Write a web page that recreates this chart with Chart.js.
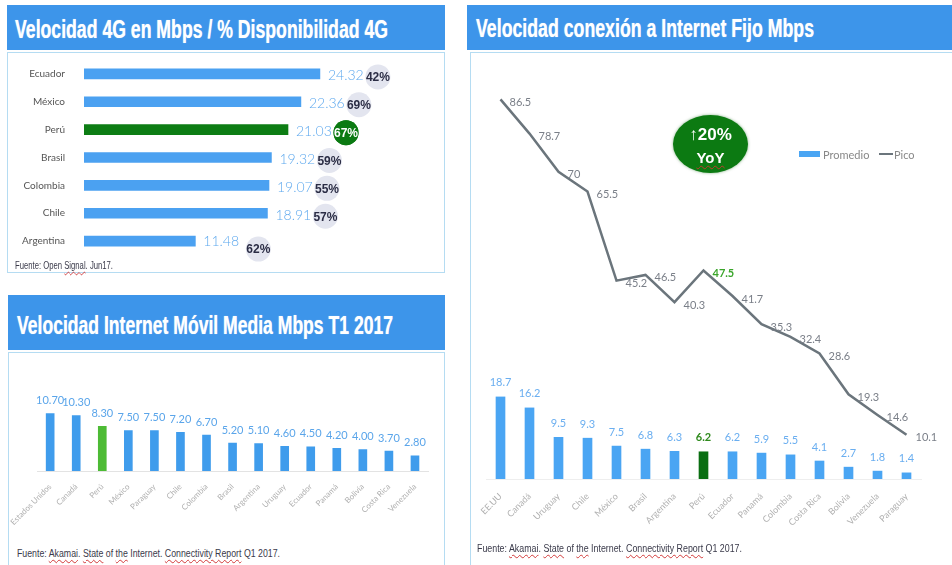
<!DOCTYPE html>
<html>
<head>
<meta charset="utf-8">
<script src="https://cdn.jsdelivr.net/npm/chart.js@4/dist/chart.umd.min.js"></script>
<style>
  html,body{margin:0;padding:0;background:#fff;}
  body{width:952px;height:565px;position:relative;overflow:hidden;font-family:"Liberation Sans",Arial,sans-serif;}
  .bar{position:absolute;background:#3d95ea;}
  .ttl{position:absolute;color:#fff;font-family:"Liberation Sans Narrow","Liberation Sans",Arial,sans-serif;font-weight:bold;white-space:nowrap;transform-origin:0 50%;text-shadow:0 0 1px rgba(255,255,255,0.7);line-height:1;}
  .box{position:absolute;border:1px solid #b5dcf2;box-sizing:border-box;}
  canvas{position:absolute;}
  .fn{position:absolute;white-space:nowrap;font-family:"Liberation Sans Narrow","Liberation Sans",Arial,sans-serif;color:#3a3a4a;transform-origin:0 50%;line-height:1;}
  .sq{text-decoration:underline wavy #d23a3a;text-decoration-thickness:1px;text-underline-offset:2px;}
  #yoy{position:absolute;left:673px;top:115px;width:75px;height:58px;border-radius:50%;background:#0c7a12;color:#fff;font-family:"Liberation Sans Narrow","Liberation Sans",Arial,sans-serif;font-weight:bold;text-align:center;box-shadow:0 0 3px rgba(10,100,10,0.5);}
</style>
</head>
<body>
<!-- Panel 1 -->
<div class="bar" style="left:7px;top:5px;width:438px;height:45px;"></div>
<div class="ttl" data-w="373" style="left:15px;top:17px;font-size:25px;">Velocidad 4G en Mbps / % Disponibilidad 4G</div>
<div class="box" style="left:7px;top:52px;width:438px;height:221px;"></div>
<canvas id="c1" width="437" height="229" style="left:8px;top:43px;"></canvas>
<div class="fn" data-w="98" style="left:15px;top:261px;font-size:10px;">Fuente: Open <span class="sq">Signal</span>. Jun17.</div>

<!-- Panel 2 -->
<div class="bar" style="left:8px;top:295px;width:437px;height:55px;"></div>
<div class="ttl" data-w="376" style="left:17px;top:312px;font-size:26px;">Velocidad Internet Móvil Media Mbps T1 2017</div>
<div class="box" style="left:8px;top:352px;width:437px;height:220px;"></div>
<canvas id="c2" width="437" height="190" style="left:8px;top:355px;"></canvas>
<div class="fn" data-w="263" style="left:17px;top:549px;font-size:10px;">Fuente: <span class="sq">Akamai</span>. <span class="sq">State</span> of <span class="sq">the</span> Internet. <span class="sq">Connectivity Report</span> Q1 2017.</div>

<!-- Panel 3 -->
<div class="bar" style="left:467px;top:5px;width:485px;height:45px;"></div>
<div class="ttl" data-w="338" style="left:476px;top:16px;font-size:25px;">Velocidad conexión a Internet Fijo Mbps</div>
<div class="box" style="left:470px;top:52px;width:490px;height:520px;"></div>
<canvas id="c3" width="480" height="490" style="left:472px;top:55px;"></canvas>
<div id="yoy"><div style="font-size:17px;margin-top:10px;">&#8593;20%</div><div style="font-size:15px;margin-top:4px;"><span style="text-decoration:underline wavy #c0392b;text-decoration-thickness:1px;text-underline-offset:2px;">YoY</span></div></div>
<div class="fn" data-w="265" style="left:477px;top:544px;font-size:10px;">Fuente: <span class="sq">Akamai</span>. <span class="sq">State</span> of <span class="sq">the</span> Internet. <span class="sq">Connectivity Report</span> Q1 2017.</div>

<script>
// ---------------- DATA ----------------
const paises4G = ["Ecuador","México","Perú","Brasil","Colombia","Chile","Argentina"];
const velocidad4G = [24.32, 22.36, 21.03, 19.32, 19.07, 18.91, 11.48];
const disponibilidad4G = [42, 69, 67, 59, 55, 57, 62];

const paisesMovil = ["Estados Unidos","Canadá","Perú","México","Paraguay","Chile","Colombia","Brasil","Argentina","Uruguay","Ecuador","Panamá","Bolivia","Costa Rica","Venezuela"];
const velocidadMovil = [10.70, 10.30, 8.30, 7.50, 7.50, 7.20, 6.70, 5.20, 5.10, 4.60, 4.50, 4.20, 4.00, 3.70, 2.80];

const paisesFijo = ["EE.UU","Canadá","Uruguay","Chile","México","Brasil","Argentina","Perú","Ecuador","Panamá","Colombia","Costa Rica","Bolivia","Venezuela","Paraguay"];
const promedioFijo = [18.7, 16.2, 9.5, 9.3, 7.5, 6.8, 6.3, 6.2, 6.2, 5.9, 5.5, 4.1, 2.7, 1.8, 1.4];
const picoFijo = [86.5, 78.7, 70, 65.5, 45.2, 46.5, 40.3, 47.5, 41.7, 35.3, 32.4, 28.6, 19.3, 14.6, 10.1];

const DESTACADO = "Perú";
// ---------------------------------------

document.querySelectorAll('[data-w]').forEach(el=>{
  const w = el.getBoundingClientRect().width;
  const t = parseFloat(el.dataset.w);
  if (w>0) el.style.transform = 'scaleX(' + (t/w) + ')';
});

Chart.defaults.animation = false;
Chart.defaults.font.family = "Lato, 'Open Sans', sans-serif";

// ---- Chart 1 ----
const c1Labels = {
  id:'c1Labels',
  afterDatasetsDraw(chart){
    const ctx = chart.ctx;
    const meta = chart.getDatasetMeta(0);
    meta.data.forEach((bar,i)=>{
      const txt = velocidad4G[i].toFixed(2);
      const isP = paises4G[i]===DESTACADO;
      const last = i===paises4G.length-1;
      ctx.save();
      const tx = bar.x + 8;
      const ty = bar.y + (last ? 0 : 2);
      const cx = bar.x + (last ? 63 : 58);
      const cy = bar.y + (last ? 8 : 3);
      ctx.beginPath(); ctx.arc(cx, cy, 12.5, 0, Math.PI*2);
      ctx.fillStyle = isP ? '#0b7a12' : '#e3e5ef';
      ctx.fill();
      ctx.font = "300 14px Lato, 'Open Sans', sans-serif";
      ctx.fillStyle = '#5fa9ee';
      ctx.textAlign = 'left'; ctx.textBaseline = 'middle';
      ctx.fillText(txt, tx, ty);
      if (isP) {
        ctx.beginPath(); ctx.arc(cx, cy, 12.5, 0, Math.PI*2);
        ctx.fillStyle = '#0b7a12'; ctx.fill();
      }
      ctx.font = "bold 12px 'Liberation Sans Narrow', 'Liberation Sans', Arial, sans-serif";
      ctx.fillStyle = isP ? '#ffffff' : '#2b2d45';
      ctx.textAlign = 'center';
      ctx.fillText(disponibilidad4G[i] + '%', cx, cy+1);
      ctx.restore();
    });
  }
};
new Chart(document.getElementById('c1'), {
  type:'bar',
  data:{ labels:paises4G, datasets:[{ label:'Velocidad 4G', data:velocidad4G,
    backgroundColor: paises4G.map(p=>p===DESTACADO ? '#0d7d14' : '#4ba1f1'), barThickness:10 }]},
  options:{
    indexAxis:'y', responsive:false,
    layout:{ padding:{ left:0, right:5, top:4, bottom:16 } },
    plugins:{ legend:{display:false}, tooltip:{enabled:false} },
    scales:{
      x:{ display:false, min:0, max:36.7 },
      y:{ grid:{display:false}, border:{display:false},
          ticks:{ color:'#555', font:{size:10}, padding:11 },
          afterFit(s){ s.width = 76; } }
    }
  },
  plugins:[c1Labels]
});

// ---- Chart 2 ----
const c2Labels = {
  id:'c2Labels',
  afterDatasetsDraw(chart){
    const ctx = chart.ctx;
    chart.getDatasetMeta(0).data.forEach((bar,i)=>{
      ctx.save();
      ctx.font = "11px Lato, 'Open Sans', sans-serif";
      ctx.fillStyle = '#5aa5ea';
      ctx.textAlign='center'; ctx.textBaseline='middle';
      ctx.fillText(velocidadMovil[i].toFixed(2), bar.x, bar.y - 13);
      ctx.restore();
    });
  }
};
new Chart(document.getElementById('c2'), {
  type:'bar',
  data:{ labels:paisesMovil, datasets:[{ label:'Velocidad móvil', data:velocidadMovil,
    backgroundColor: paisesMovil.map(p=>p===DESTACADO ? '#4dbb35' : '#3f9cec'), barThickness:8 }]},
  options:{
    responsive:false,
    layout:{ padding:{ left:29, right:17, top:30, bottom:0 } },
    plugins:{ legend:{display:false}, tooltip:{enabled:false} },
    scales:{
      y:{ display:false, min:0, max:16 },
      x:{ grid:{display:false}, border:{display:true, color:'#e3e3e3'},
          ticks:{ color:'#b0b0b0', font:{size:8}, autoSkip:false, minRotation:45, maxRotation:45, padding:3 },
          afterFit(s){ s.height = 74; } }
    }
  },
  plugins:[c2Labels]
});

// ---- Chart 3 ----
const c3Labels = {
  id:'c3Labels',
  afterDatasetsDraw(chart){
    const ctx = chart.ctx;
    const barMeta = chart.getDatasetMeta(0);
    const lineMeta = chart.getDatasetMeta(1);
    ctx.save();
    ctx.textBaseline='middle';
    barMeta.data.forEach((bar,i)=>{
      const isP = paisesFijo[i]===DESTACADO;
      ctx.font = (isP?'bold ':'') + "11px Lato, 'Open Sans', sans-serif";
      ctx.fillStyle = isP ? '#2f8a1d' : '#6aaef0';
      ctx.textAlign='center';
      ctx.fillText(String(promedioFijo[i]), bar.x, bar.y - 14);
    });
    lineMeta.data.forEach((pt,i)=>{
      const isP = paisesFijo[i]===DESTACADO;
      ctx.font = (isP?'bold ':'') + "11px Lato, 'Open Sans', sans-serif";
      ctx.fillStyle = isP ? '#3aa52a' : '#7a7f88';
      ctx.textAlign='left';
      ctx.fillText(String(picoFijo[i]), pt.x + 9, pt.y + 3);
    });
    const ds = chart.data.datasets;
    ctx.font = "11px Lato, 'Open Sans', sans-serif";
    ctx.fillStyle = ds[0].legendColor; ctx.fillRect(327, 96, 21, 6);
    ctx.fillStyle = '#888'; ctx.fillText(ds[0].label, 351, 100);
    ctx.strokeStyle = ds[1].borderColor; ctx.lineWidth = 2;
    ctx.beginPath(); ctx.moveTo(407, 99); ctx.lineTo(421, 99); ctx.stroke();
    ctx.fillText(ds[1].label, 422, 100);
    ctx.restore();
  }
};
new Chart(document.getElementById('c3'), {
  type:'bar',
  data:{ labels:paisesFijo, datasets:[
    { type:'bar', label:'Promedio', data:promedioFijo, order:2, legendColor:'#4aa5f3',
      backgroundColor: paisesFijo.map(p=>p===DESTACADO ? '#0a6e12' : '#4aa5f3'), barThickness:9 },
    { type:'line', label:'Pico', data:picoFijo, order:1, borderColor:'#6b757c', borderWidth:2.5,
      pointRadius:0, tension:0, fill:false }
  ]},
  options:{
    responsive:false,
    layout:{ padding:{ left:14, right:31, top:29, bottom:0 } },
    plugins:{ legend:{display:false}, tooltip:{enabled:false} },
    scales:{
      y:{ display:false, min:0, max:90 },
      x:{ grid:{display:false}, border:{display:true, color:'#eeeeee'},
          ticks:{ color:'#b0b0b0', font:{size:9}, autoSkip:false, minRotation:45, maxRotation:45, padding:4 },
          afterFit(s){ s.height = 66; } }
    }
  },
  plugins:[c3Labels]
});
</script>
</body>
</html>
